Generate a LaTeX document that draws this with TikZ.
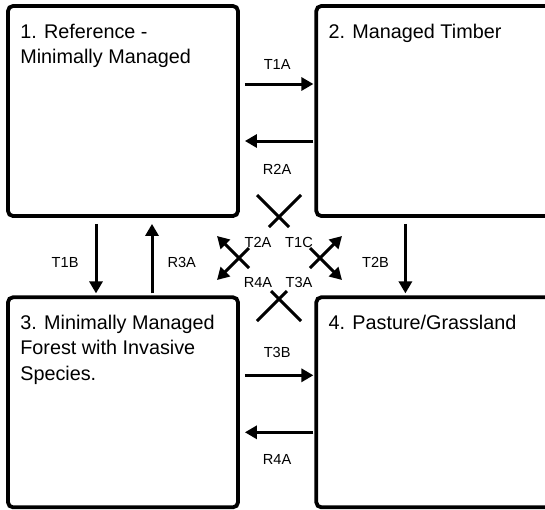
\documentclass[tikz,border=0pt]{standalone}
\usepackage{fontspec}
\setmainfont{Liberation Sans}
\usetikzlibrary{positioning}
\usetikzlibrary{arrows.meta}

\begin{document}
\begin{tikzpicture}[x=1pt, y=-1pt, node distance=77.5pt and 74.5pt,
  state/.style={draw, rectangle, rounded corners=5pt, line width=3.8pt, minimum height=210pt},
  title/.style={anchor=north west, inner sep=0pt, align=left, font=\fontsize{19.8}{25.5}\selectfont},
  trans/.style={line width=3pt, -{Triangle[length=12pt,width=13pt]}},
  cross/.style={line width=3pt},
  lbl/.style={inner sep=0pt, font=\fontsize{14.6}{16}\selectfont}]
\useasboundingbox (0,0) rectangle (545,509);
\clip (0,0) rectangle (545,509);
\node[state, minimum width=230pt] (ref) at (123,111) {};
\node[state, minimum width=250pt] (tim) [right=of ref] {};
\node[state, minimum width=230pt] (inv) [below=of ref] {};
\node[state, minimum width=250pt] (pas) [right=of inv] {};
\node[title] (tRef) [below right=19.5pt and 14pt of ref.north west] {1. Reference -\\Minimally Managed};
\node[title] (tTim) [below right=19.5pt and 14pt of tim.north west] {2. Managed Timber};
\node[title] (tInv) [below right=19.5pt and 14pt of inv.north west] {3. Minimally Managed\\Forest with Invasive\\Species.};
\node[title] (tPas) [below right=19.5pt and 14pt of pas.north west] {4. Pasture/Grassland};

\draw[trans, shorten <=5pt, shorten >=1pt] ([yshift=27pt]ref.east) -- ([yshift=27pt]tim.west) node[lbl, midway, above=13pt] (lT1A) {T1A};
\draw[trans, shorten <=1pt, shorten >=5pt] ([yshift=-30pt]tim.west) -- ([yshift=-30pt]ref.east) node[lbl, midway, below=22pt] (lR2A) {R2A};
\draw[trans, shorten <=6pt, shorten >=2pt] ([xshift=-27pt]ref.south) -- ([xshift=-27pt]inv.north) node[lbl, pos=0.57, left=16pt] (lT1B) {T1B};
\draw[trans, shorten <=2pt, shorten >=6pt] ([xshift=29pt]inv.north) -- ([xshift=29pt]ref.south) node[lbl, pos=0.43, right=14pt] (lR3A) {R3A};
\draw[trans, shorten <=6pt, shorten >=2pt] ([xshift=91pt]tim.south west) -- ([xshift=91pt]pas.north west) node[lbl, pos=0.57, left=15pt] (lT2B) {T2B};
\draw[trans, shorten <=5pt, shorten >=1pt] ([yshift=27pt]inv.east) -- ([yshift=27pt]pas.west) node[lbl, midway, above=16pt] (lT3B) {T3B};
\draw[trans, shorten <=1pt, shorten >=5pt] ([yshift=-30pt]pas.west) -- ([yshift=-30pt]inv.east) node[lbl, midway, below=21pt] (lR4A) {R4A};

% crossing transitions in the middle
\coordinate (mid) at (279,258);
\begin{scope}[shift={(mid)}]
\draw[cross] (-22,-63) -- (10,-31);
\draw[cross] (22,-63) -- (-10,-31);
\draw[cross] (-22,63) -- (8,33);
\draw[cross] (22,63) -- (-8,33);
\draw[trans] (-30,10) -- (-62,-22);
\draw[trans] (-30,-10) -- (-62,22);
\draw[trans] (31,10) -- (63,-22);
\draw[trans] (31,-10) -- (63,22);
\node[lbl] (lT2A) at (-21,-16) {T2A};
\node[lbl] (lT1C) at (20,-16) {T1C};
\node[lbl] (lR4Ax) at (-21,24) {R4A};
\node[lbl] (lT3A) at (20,24) {T3A};
\end{scope}
\end{tikzpicture}
\end{document}
